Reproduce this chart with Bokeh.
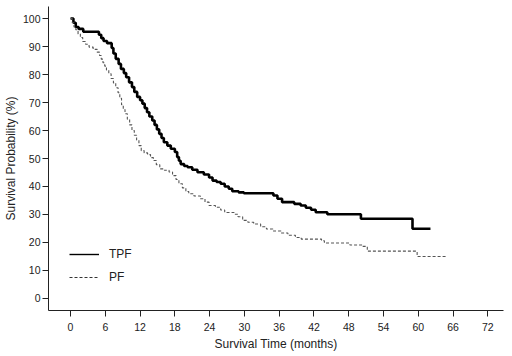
from bokeh.plotting import figure
from bokeh.models import Range1d, FixedTicker, Legend, LegendItem
from bokeh.embed import file_html
from bokeh.resources import INLINE

# TPF (solid) Kaplan-Meier steps: time (months), survival (%)
tpf_time = [0, 0.5, 0.9, 1.4, 2.2, 4.9, 5.3, 5.7, 6.3, 7.1, 7.4, 7.8, 8.3, 8.7, 9.2, 9.6,
            10.1, 10.6, 11.0, 11.5, 12.0, 12.4, 12.8, 13.2, 13.6, 14.1, 14.5, 14.9, 15.3,
            15.7, 16.1, 16.7, 17.3, 18.0, 18.4, 18.7, 19.0, 19.6, 20.2, 21.0, 21.9, 23.0,
            23.9, 24.5, 25.2, 25.9, 26.6, 27.3, 27.9, 29.0, 29.9, 35.0, 35.7, 36.5, 38.6,
            39.7, 40.6, 41.5, 42.3, 44.3, 50.1, 59.0, 62.1]
tpf_surv = [100, 98.5, 97, 96.3, 95.3, 94.2, 93, 92, 91.2, 89.5, 87.5, 85.6, 83.8, 82, 80.5, 79,
            77.2, 75.5, 73.8, 72, 70.8, 69.6, 68, 66.5, 65, 63.6, 62, 60.4, 58.8,
            57.3, 55.8, 54.6, 53.5, 52.3, 50.5, 49.2, 48, 47.3, 46.9, 46, 45.1, 44.3,
            43.2, 42.1, 41.6, 41, 40, 39.2, 38.3, 37.9, 37.6, 36.8, 35.6, 34.4, 33.8,
            33.2, 32.4, 31.7, 30.8, 30.1, 28.5, 24.9, 24.9]

# PF (dashed)
pf_time = [0, 0.3, 0.6, 0.9, 1.3, 1.7, 2.1, 2.6, 3.2, 3.9, 4.6, 5.0, 5.3, 5.6, 5.9, 6.2, 6.6,
           7.0, 7.4, 7.8, 8.2, 8.5, 8.8, 9.1, 9.4, 9.8, 10.2, 10.6, 11.0, 11.4, 11.8, 12.2,
           12.7, 13.3, 13.8, 14.3, 14.8, 15.4, 16.2, 17.0, 17.6, 18.2, 18.7, 19.3, 19.9,
           20.4, 21.3, 22.4, 23.2, 23.9, 25.0, 25.9, 26.6, 28.2, 28.9, 29.7, 30.6, 31.6,
           32.8, 33.8, 34.9, 36.3, 37.5, 38.8, 39.8, 43.3, 43.8, 48.2, 50.4, 51.2, 59.8, 64.8]
pf_surv = [100, 98.5, 97, 96, 94.5, 93.2, 91.8, 90.8, 89.8, 89, 88, 86.8, 85.5, 84.2, 83, 81.6, 80.3,
           78.6, 77, 75.3, 73.5, 71.5, 69.2, 67.5, 66, 64, 62, 60, 58.3, 56.6, 54.6, 52.8,
           52, 51.4, 50.3, 49.3, 47.8, 46.3, 45.8, 45.2, 43.9, 42.5, 41, 39.5, 38.2,
           37.4, 36.6, 35.6, 34.4, 33.2, 32.6, 31.6, 30.7, 30.1, 29.2, 27.9, 27.2, 26.6,
           25.6, 24.8, 24.1, 23.4, 22.6, 21.8, 21.2, 20.6, 19.8, 19.1, 18.6, 16.9, 15.0, 15.0]

x_ticks = [0, 6, 12, 18, 24, 30, 36, 42, 48, 54, 60, 66, 72]
y_ticks = [0, 10, 20, 30, 40, 50, 60, 70, 80, 90, 100]
series_labels = ["TPF", "PF"]

FONT = "Liberation Sans"
NAN = float("nan")

p = figure(width=512, height=356, output_backend="svg", toolbar_location=None,
           x_range=Range1d(-3.8, 74.7), y_range=Range1d(-4.3, 104.3),
           min_border_left=48, min_border_right=9, min_border_top=6, min_border_bottom=46)
p.outline_line_color = None
p.grid.visible = False
p.background_fill_color = "white"
p.border_fill_color = "white"

p.step(tpf_time, tpf_surv, mode="after", line_color="black", line_width=2.6)
p.step(pf_time, pf_surv, mode="after", line_color="#555555", line_width=1.1,
       line_dash="3 2")

# legend-only renderers (no visible data) so the legend swatches have their own widths
lg1 = p.line([NAN], [NAN], line_color="black", line_width=1.4)
lg2 = p.line([NAN], [NAN], line_color="#333333", line_width=1.0, line_dash="3 2")

for ax in (p.xaxis[0], p.yaxis[0]):
    ax.axis_line_color = "#222222"
    ax.axis_line_width = 1
    ax.major_tick_line_color = "#222222"
    ax.major_tick_out = 6
    ax.major_tick_in = 0
    ax.minor_tick_line_color = None
    ax.major_label_text_font = FONT
    ax.major_label_text_font_size = "10.5px"
    ax.major_label_text_color = "#222222"
    ax.axis_label_text_font = FONT
    ax.axis_label_text_font_size = "12px"
    ax.axis_label_text_font_style = "normal"
    ax.axis_label_text_color = "#222222"

p.xaxis[0].ticker = FixedTicker(ticks=x_ticks)
p.yaxis[0].ticker = FixedTicker(ticks=y_ticks)
p.xaxis[0].axis_label = "Survival Time (months)"
p.yaxis[0].axis_label = "Survival Probability (%)"
p.xaxis[0].major_label_standoff = 6
p.yaxis[0].major_label_standoff = 2
p.xaxis[0].axis_label_standoff = 3
p.yaxis[0].axis_label_standoff = 2

legend = Legend(items=[LegendItem(label=series_labels[0], renderers=[lg1]),
                       LegendItem(label=series_labels[1], renderers=[lg2])],
                location=(21, 25), glyph_width=30, glyph_height=16, spacing=7,
                label_standoff=10, padding=0, margin=0,
                label_text_font=FONT, label_text_font_size="12px",
                label_text_color="#222222",
                background_fill_alpha=0, border_line_color=None)
p.add_layout(legend, "center")

open("out.html", "w").write(file_html(p, INLINE))
